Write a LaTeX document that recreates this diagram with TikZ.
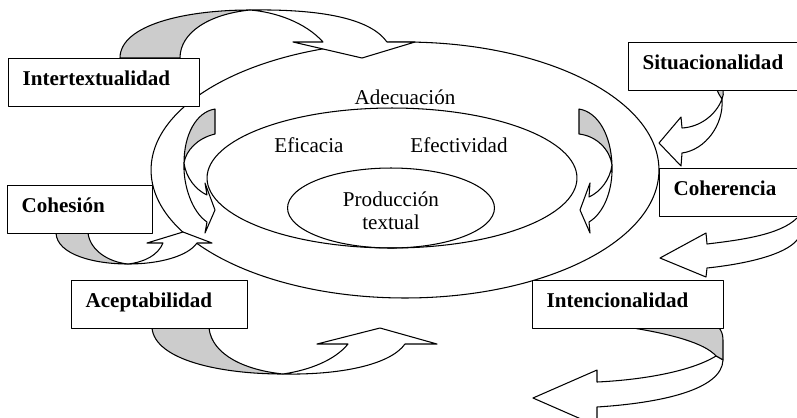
\documentclass[tikz,border=0pt]{standalone}
\usepackage{fontspec}
\setmainfont{Liberation Serif}
\definecolor{backgray}{RGB}{204,204,204}
\begin{document}
\begin{tikzpicture}
[x=0.02cm, y=-0.02cm, line width=0.6pt, line join=round,
ring/.style={draw},
word/.style={font=\fontsize{12}{13}\selectfont, inner sep=0pt},
concept/.style={draw, fill=white, line width=0.7pt, anchor=north west, align=left,
  font=\fontsize{12}{14}\selectfont\bfseries, minimum height=0.96cm, inner xsep=0.28cm,
  text height=0.32cm, text depth=0.2cm},
back/.style={draw, fill=backgray},
front/.style={draw, fill=white}]
\useasboundingbox (0,0) rectangle (797,417);
\clip (0,0) rectangle (797,417);

% ELLIPSES
\draw[ring] (405,170) ellipse [x radius=5.08cm, y radius=2.56cm];
\draw[ring] (392,178) ellipse [x radius=3.7cm, y radius=1.4cm];
\draw[ring] (391,208) ellipse [x radius=2.07cm, y radius=0.8cm];

\node[word] (adecuacion) at (405,97) {Adecuación};
\node[word] (eficacia) at (309,145) {Eficacia};
\node[word] (efectividad) at (459,145) {Efectividad};
\node[word, align=center] (produccion) at (391,211) {Producción\\textual};

% ARROWS
% intertextualidad
\draw[back] (120,58) .. controls (120,25) and (185,10) .. (250,10)
  .. controls (210,14) and (180,32) .. (180,58) -- cycle;
\draw[front] (250,10) .. controls (320,9) and (370,18) .. (387,42) -- (415,42) -- (362,58)
  -- (293,42) -- (323,42) .. controls (305,22) and (275,12) .. (250,10) -- cycle;

% situacionalidad
\draw[back] (717,90) -- (723,90) .. controls (724,93) and (723,96) .. (722,99)
  .. controls (720,96) and (718,93) .. (717,90) -- cycle;
\draw[front] (722,99) .. controls (716,115) and (700,127) .. (682,128) -- (681,117) -- (659,143)
  -- (681,166) -- (682,153) .. controls (705,150) and (724,125) .. (722,99) -- cycle;

% coherencia
\draw[front] (797,218) .. controls (780,235) and (740,240) .. (707,244) -- (706,233) -- (660,258)
  -- (706,277) -- (707,268) .. controls (745,264) and (785,255) .. (797,240)
  .. controls (803,232) and (802,224) .. (797,218) -- cycle;

% intencionalidad
\draw[back] (633,328) .. controls (670,334) and (705,343) .. (716,356) -- (723,360) -- (723,340)
  .. controls (723,334) and (721,330) .. (719,328) -- cycle;
\draw[front] (716,356) .. controls (690,372) and (640,380) .. (597,382) -- (597,370) -- (533,398)
  -- (597,426) -- (597,407) .. controls (660,403) and (722,390) .. (723,360) -- cycle;

% aceptabilidad
\draw[back] (152,328) .. controls (155,360) and (220,374) .. (283,374)
  .. controls (245,370) and (212,355) .. (209,328) -- cycle;
\draw[front] (283,374) .. controls (340,375) and (390,365) .. (405,344) -- (437,344) -- (380,328)
  -- (317,344) -- (348,344) .. controls (335,360) and (310,370) .. (283,374) -- cycle;

% cohesion
\draw[back] (56,233) .. controls (57,255) and (95,264) .. (128,264)
  .. controls (108,262) and (90,250) .. (88,233) -- cycle;
\draw[front] (128,264) .. controls (160,264) and (188,256) .. (197,243) -- (212,243) -- (183,232)
  -- (147,243) -- (163,243) .. controls (158,255) and (145,262) .. (128,264) -- cycle;

% eficacia side
\draw[back] (215,109) -- (215,134) .. controls (198,138) and (186,150) .. (184,163)
  .. controls (184,135) and (196,112) .. (215,109) -- cycle;
\draw[front] (184,163) .. controls (183,185) and (192,212) .. (207,222) -- (205,233) -- (215,210)
  -- (205,183) -- (207,195) .. controls (196,190) and (186,178) .. (184,163) -- cycle;

% efectividad side
\draw[back] (579,109) .. controls (598,112) and (611,135) .. (612,165)
  .. controls (610,150) and (597,136) .. (579,134) -- cycle;
\draw[front] (612,165) .. controls (613,190) and (604,213) .. (589,222) -- (590,233) -- (580,210)
  -- (590,183) -- (589,197) .. controls (600,192) and (610,180) .. (612,165) -- cycle;

% BOXES
\node[concept, text width=3.26cm] (intertext) at (8,58) {Intertextualidad};
\node[concept, text width=2.88cm] (situacion) at (628,42) {Situacionalidad};
\node[concept, text width=2.26cm] (coherencia) at (659,168) {Coherencia};
\node[concept, text width=2.34cm] (cohesion) at (7,185) {Cohesión};
\node[concept, text width=2.96cm] (aceptab) at (71,280) {Aceptabilidad};
\node[concept, text width=3.26cm] (intencion) at (532,280) {Intencionalidad};
\end{tikzpicture}
\end{document}
